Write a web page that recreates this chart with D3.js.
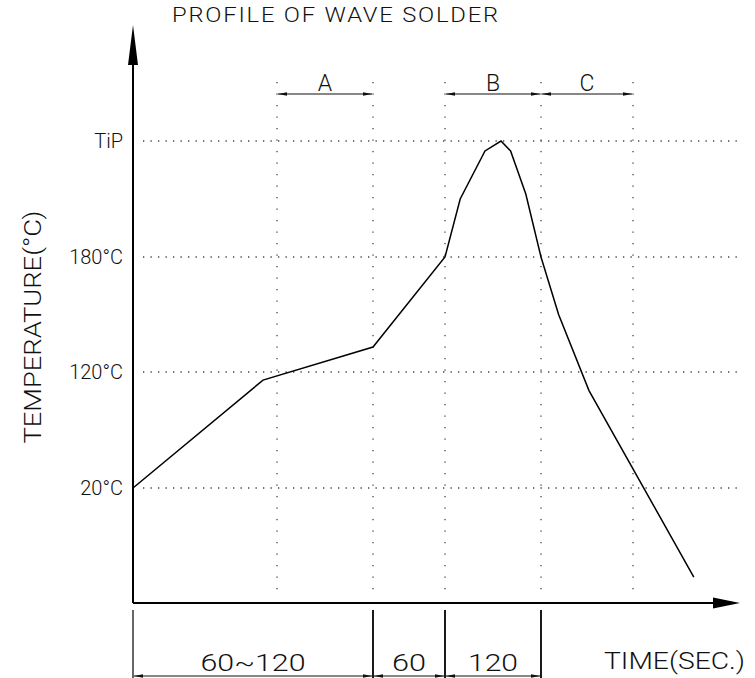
<!DOCTYPE html>
<html><head><meta charset="utf-8">
<script src="https://cdn.jsdelivr.net/npm/d3@7"></script>
<style>
body{margin:0;background:#fff}
text{font-family:Roboto,"Liberation Sans",Arial,sans-serif;font-weight:300;fill:#111}
</style></head><body>
<svg id="chart" width="755" height="678"></svg>
<script>
// temperature levels marked on the axis
var levelLabels = ['20°C', '120°C', '180°C', 'TiP']
var levelTemps = [20, 120, 180, 250]

// zones over the top
var zoneNames = ['A', 'B', 'C']
var zoneStart = [72, 180, 300]
var zoneEnd = [120, 300, 415]

// time spans under the axis (sec)
var spanLabels = ['60~120', '60', '120']
var spanStart = [0, 120, 180]
var spanEnd = [120, 180, 300]

// the profile: time (sec) / temp (°C)
var profTime = [0, 65, 120, 180, 199, 230, 250, 262, 281, 300, 322, 360, 491]
var profTemp = [20, 113, 133, 180, 215, 244, 250, 244, 218, 180, 150, 104, 4.5]

var svg = d3.select('#chart')

// schematic, so both scales are piecewise
var x = d3.scaleLinear().domain([0, 120, 180, 300]).range([133, 373, 445, 541])
var y = d3.scaleLinear().domain([0, 20, 120, 180, 250]).range([603, 488, 372, 257, 141])

var x0 = x(0), yBase = y(0)

var defs = svg.append('defs')
defs.append('marker')
  .attr('id', 'arr').attr('viewBox', '0 0 10 4').attr('refX', 10).attr('refY', 2)
  .attr('markerUnits', 'userSpaceOnUse').attr('markerWidth', 9).attr('markerHeight', 4)
  .attr('orient', 'auto-start-reverse')
  .append('path').attr('d', 'M0,0L10,2L0,4Z').attr('fill', '#111')

// dotted guides
svg.append('g').selectAll('line').data(levelTemps).join('line')
  .attr('x1', 143).attr('x2', 738)
  .attr('y1', d => y(d)).attr('y2', d => y(d))
  .attr('stroke', '#444').attr('stroke-width', 1.3).attr('stroke-dasharray', '1.3,6.2')

var guideTimes = Array.from(new Set(zoneStart.concat(zoneEnd)))
svg.append('g').selectAll('line').data(guideTimes).join('line')
  .attr('x1', d => x(d)).attr('x2', d => x(d))
  .attr('y1', 82).attr('y2', 596)
  .attr('stroke', '#444').attr('stroke-width', 1.3).attr('stroke-dasharray', '1.3,10.2')

// y tick labels
var yAxis = d3.axisLeft(y).tickValues(levelTemps)
  .tickFormat((d, i) => levelLabels[i]).tickSize(0).tickPadding(10)
var ya = svg.append('g').attr('transform', `translate(${x0},0)`).call(yAxis)
ya.select('.domain').remove()
ya.selectAll('text').attr('font-size', 20).attr('font-family', null).attr('fill', '#111')

// axes with arrows
svg.append('line').attr('x1', x0).attr('x2', x0).attr('y1', 60).attr('y2', yBase)
  .attr('stroke', '#000').attr('stroke-width', 2)
svg.append('path').attr('d', `M${x0},25L${x0 + 5},65L${x0 - 5},65Z`).attr('fill', '#000')
svg.append('line').attr('x1', x0).attr('x2', 718).attr('y1', yBase).attr('y2', yBase)
  .attr('stroke', '#000').attr('stroke-width', 2)
svg.append('path').attr('d', `M740,${yBase}L713,${yBase - 5.5}L713,${yBase + 5.5}Z`).attr('fill', '#000')

// profile curve
var line = d3.line().x(d => x(d[0])).y(d => y(d[1]))
svg.append('path')
  .datum(profTime.map((t, i) => [t, profTemp[i]]))
  .attr('d', line).attr('fill', 'none').attr('stroke', '#000').attr('stroke-width', 1.5)

// zones A B C
var zg = svg.append('g').selectAll('g').data(zoneNames).join('g')
zg.append('line')
  .attr('x1', (d, i) => x(zoneStart[i]) + 1).attr('x2', (d, i) => x(zoneEnd[i]) - 1)
  .attr('y1', 94).attr('y2', 94)
  .attr('stroke', '#111').attr('stroke-width', 1.2)
  .attr('marker-start', 'url(#arr)').attr('marker-end', 'url(#arr)')
zg.append('text')
  .attr('x', (d, i) => (x(zoneStart[i]) + x(zoneEnd[i])) / 2).attr('y', 91)
  .attr('text-anchor', 'middle').attr('font-size', 23)
  .text(d => d)

// time spans under the axis
var spanEdges = Array.from(new Set(spanStart.concat(spanEnd)))
svg.append('g').selectAll('line').data(spanEdges).join('line')
  .attr('x1', d => x(d)).attr('x2', d => x(d))
  .attr('y1', 610).attr('y2', 678)
  .attr('stroke', '#000').attr('stroke-width', (d, i) => i ? 1.8 : 1.2)

var spanW = [105, 34, 50]
var sg = svg.append('g').selectAll('g').data(spanLabels).join('g')
sg.append('line')
  .attr('x1', (d, i) => x(spanStart[i]) + 1).attr('x2', (d, i) => x(spanEnd[i]) - 1)
  .attr('y1', 676).attr('y2', 676)
  .attr('stroke', '#111').attr('stroke-width', 1.2)
  .attr('marker-start', 'url(#arr)').attr('marker-end', 'url(#arr)')
sg.append('text')
  .attr('x', (d, i) => (x(spanStart[i]) + x(spanEnd[i])) / 2).attr('y', 671)
  .attr('text-anchor', 'middle').attr('font-size', 23)
  .attr('textLength', (d, i) => spanW[i]).attr('lengthAdjust', 'spacingAndGlyphs')
  .text(d => d)

// titles
svg.append('text').attr('x', 172).attr('y', 22).attr('font-size', 20)
  .style('letter-spacing', '1.5px')
  .attr('textLength', 328).attr('lengthAdjust', 'spacingAndGlyphs')
  .text('PROFILE OF WAVE SOLDER')

svg.append('text').attr('transform', 'translate(41,327) rotate(-90)')
  .attr('text-anchor', 'middle').attr('font-size', 24)
  .attr('textLength', 233).attr('lengthAdjust', 'spacingAndGlyphs')
  .text('TEMPERATURE(°C)')

svg.append('text').attr('x', 604).attr('y', 669).attr('font-size', 23)
  .attr('textLength', 141).attr('lengthAdjust', 'spacingAndGlyphs')
  .text('TIME(SEC.)')
</script>
</body></html>
